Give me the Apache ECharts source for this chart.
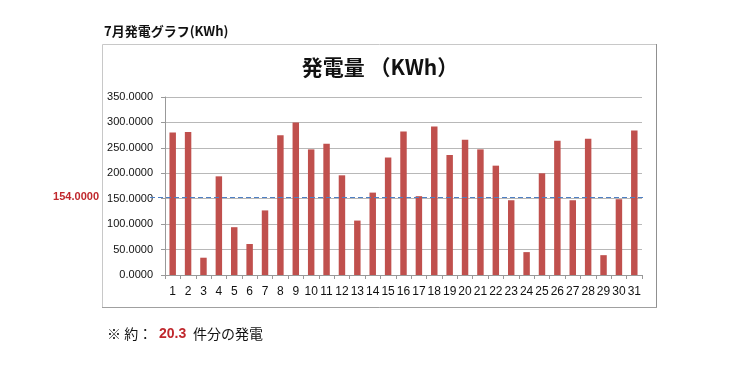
<!DOCTYPE html>
<html><head><meta charset="utf-8">
<script src="https://cdn.jsdelivr.net/npm/echarts@6/dist/echarts.min.js"></script>
<style>html,body{margin:0;padding:0;background:#fff}#c{width:739px;height:388px}</style>
</head><body><div id="c"></div>
<script>
const days = ['1','2','3','4','5','6','7','8','9','10','11','12','13','14','15','16','17','18','19','20','21','22','23','24','25','26','27','28','29','30','31'];
const kwh = [280,281,34,194,94,61,127,275,300,247,258,196,107,162,231,282,155,292,236,266,247,215,147,45,200,264,147,268,39,149,284];
const avgValue = 154;
const pageTitle = '7月発電グラフ(KWh)';
const chartTitle = '発電量 （KWh）';
const noteParts = ['※ 約：', '20.3', '件分の発電'];

const chart = echarts.init(document.getElementById('c'), null, {renderer:'canvas'});
const jp = '"Noto Sans CJK JP", "Liberation Sans", sans-serif';
const num = '"Liberation Sans", Arial, sans-serif';
chart.setOption({
  animation:false,
  backgroundColor:'#fff',
  grid:{left:165,right:97,top:97,bottom:113},
  xAxis:{type:'category',data:days,
    axisLine:{lineStyle:{color:'#999'}},
    axisTick:{show:true,lineStyle:{color:'#999'},length:4},
    axisLabel:{color:'#111',fontSize:12,fontFamily:num,margin:11,interval:0}},
  yAxis:{type:'value',min:0,max:350,interval:50,
    axisLine:{show:true,lineStyle:{color:'#999'}},
    axisTick:{show:true,length:4,lineStyle:{color:'#999'}},
    splitLine:{lineStyle:{color:'#b8b8b8'}},
    axisLabel:{color:'#111',fontSize:11,fontFamily:num,margin:12,formatter:v=>v.toFixed(4)}},
  series:[{type:'bar',data:kwh,barWidth:'42%',itemStyle:{color:'#c0504d'}}]
});
const yAvg = chart.convertToPixel({yAxisIndex:0}, avgValue);
chart.setOption({graphic:[
  {type:'rect',shape:{x:102.5,y:44.5,width:554,height:263},style:{fill:'none',stroke:'#c8c8c8',lineWidth:1},z:-1},
  {type:'line',shape:{x1:656.5,y1:44,x2:656.5,y2:308},style:{stroke:'#909090',lineWidth:1}},
  {type:'line',shape:{x1:102,y1:307.5,x2:657,y2:307.5},style:{stroke:'#a0a0a0',lineWidth:1}},
  {type:'text',left:104,top:25,style:{text:pageTitle,font:'bold 13px '+jp,fill:'#111'}},
  {type:'text',x:380,y:67,style:{text:chartTitle,font:'bold 21px '+jp,fill:'#111',textAlign:'center',textVerticalAlign:'middle'}},
  {type:'line',z:100,zlevel:0,shape:{x1:150,y1:Math.round(yAvg)+0.5,x2:645,y2:Math.round(yAvg)+0.5},style:{stroke:'#4d7fc4',lineWidth:1.2,lineDash:[5,3]}},
  {type:'text',x:99,y:yAvg,style:{text:avgValue.toFixed(4),font:'bold 11px '+num,fill:'#c0282d',textAlign:'right',textVerticalAlign:'middle'}},
  {type:'text',x:107,y:334,style:{text:noteParts[0],font:'14px '+jp,fill:'#111',textVerticalAlign:'middle'}},
  {type:'text',x:159,y:334,style:{text:noteParts[1],font:'bold 14px '+num,fill:'#c0282d',textVerticalAlign:'middle'}},
  {type:'text',x:193,y:334,style:{text:noteParts[2],font:'14px '+jp,fill:'#111',textVerticalAlign:'middle'}}
]});
</script></body></html>
